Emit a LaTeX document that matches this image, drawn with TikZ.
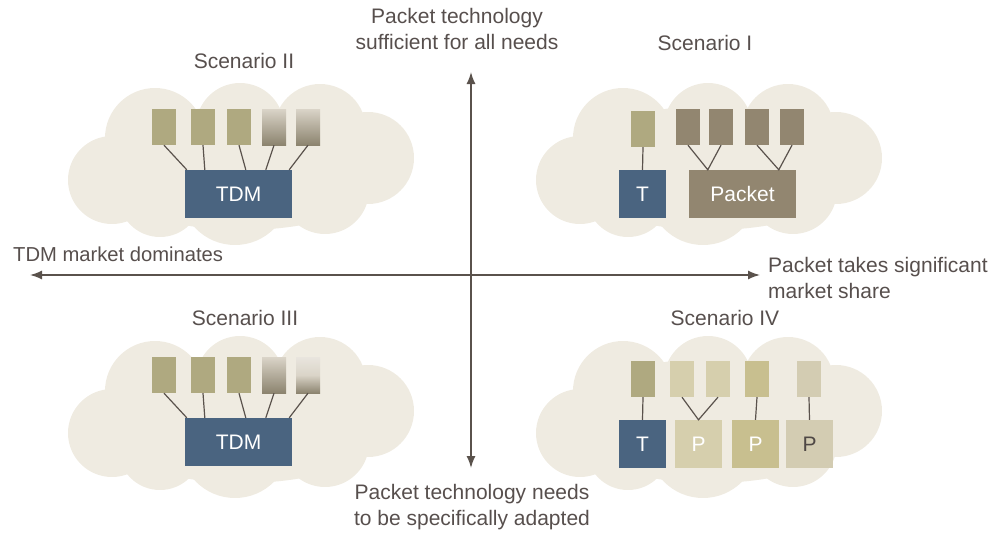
\documentclass[tikz,border=0pt]{standalone}
\usepackage{fontspec}
\setmainfont{Liberation Sans}
\usetikzlibrary{arrows.meta}

\definecolor{cloudfill}{HTML}{EFEBE1}
\definecolor{navy}{HTML}{4A6480}
\definecolor{olive}{HTML}{AFA980}
\definecolor{pktbrown}{HTML}{928670}
\definecolor{paleolive}{HTML}{D6CFAD}
\definecolor{midolive}{HTML}{C8BF8F}
\definecolor{greyolive}{HTML}{D3CCB2}
\definecolor{gradtop}{HTML}{DAD4C8}
\definecolor{gradbot}{HTML}{8C846F}
\definecolor{linecol}{HTML}{5A524C}
\definecolor{txtcol}{HTML}{574F4D}
\definecolor{darktxt}{HTML}{4F4845}

% cloud made of overlapping discs, centred on (#1,#2)
\newcommand{\drawcloud}[2]{%
  \begin{scope}[shift={(#1,#2)}]
    \fill[cloudfill] (0,3) ellipse [x radius=150pt, y radius=62pt];
    \fill[cloudfill] (-131,15) circle (44pt);
    \fill[cloudfill] (-88,-27) circle (50pt);
    \fill[cloudfill] (-3,-38) circle (44pt);
    \fill[cloudfill] (77,-35) circle (46pt);
    \fill[cloudfill] (125,-7) circle (46pt);
    \fill[cloudfill] (82,25) circle (44pt);
    \fill[cloudfill] (-8,25) circle (55pt);
    \fill[cloudfill] (-83,30) circle (42pt);
  \end{scope}}

\tikzset{
  lbl/.style={text=txtcol, inner sep=0pt},
  sbox/.style={rectangle, minimum width=24pt, minimum height=36pt, inner sep=0pt},
  bigbox/.style={rectangle, minimum width=107pt, minimum height=48pt, inner sep=0pt, text=white},
  sqbox/.style={rectangle, minimum width=47pt, minimum height=48pt, inner sep=0pt, text=white},
  gradbox/.style={sbox, top color=gradtop, bottom color=gradbot},
  gradbox2/.style={sbox, top color=gradtop!60!white, bottom color=gradbot, middle color=gradtop},
  link/.style={draw=linecol, line width=1.2pt},
  axis/.style={draw=linecol, line width=1.5pt, {Latex[length=12pt,width=9pt]}-{Latex[length=12pt,width=9pt]}}
}

\begin{document}
\begin{tikzpicture}[x=1pt, y=-1pt, font=\fontsize{21}{26}\selectfont]
\useasboundingbox (0,0) rectangle (1007,533);

% background clouds
\drawcloud{243}{165}
\drawcloud{711}{165}
\drawcloud{243}{418}
\drawcloud{711}{418}

% axes
\coordinate (top) at (471,72);
\coordinate (bot) at (471,468);
\coordinate (lft) at (30,275);
\coordinate (rgt) at (760,275);
\draw[axis] (bot) -- (top);
\draw[axis] (lft) -- (rgt);

% axis labels
\node[lbl, align=center] (ltop) at (457,29) {Packet technology\\sufficient for all needs};
\node[lbl, anchor=base west, font=\fontsize{20.2}{26}\selectfont] (lleft) at (13,261) {TDM market dominates};
\node[lbl, align=left, anchor=west] (lright) at (768,278) {Packet takes significant\\market share};
\node[lbl, align=center] (lbot) at (472,507) {Packet technology needs\\to be specifically adapted};

% scenario titles
\node[lbl] (t2) at (244,61) {Scenario II};
\node[lbl] (t1) at (705,43) {Scenario I};
\node[lbl] (t3) at (245,318) {Scenario III};
\node[lbl] (t4) at (725,318) {Scenario IV};

% Scenario II
\node[sbox, fill=olive] (a1) at (164,127) {};
\node[sbox, fill=olive] (a2) at (203,127) {};
\node[sbox, fill=olive] (a3) at (239,127) {};
\node[gradbox] (a4) at (274,127) {};
\node[gradbox] (a5) at (308,127) {};
\node[bigbox, fill=navy] (atdm) at (238.5,194) {TDM};
\draw[link] (a1.south) -- ([xshift=2pt]atdm.north west);
\draw[link] (a2.south) -- ([xshift=20pt]atdm.north west);
\draw[link] (a3.south) -- ([xshift=61pt]atdm.north west);
\draw[link] (a4.south) -- ([xshift=81pt]atdm.north west);
\draw[link] (a5.south) -- ([xshift=-3pt]atdm.north east);

% Scenario III
\node[sbox, fill=olive] (c1) at (164,375) {};
\node[sbox, fill=olive] (c2) at (203,375) {};
\node[sbox, fill=olive] (c3) at (239,375) {};
\node[gradbox] (c4) at (274,375) {};
\node[gradbox2] (c5) at (308,375) {};
\node[bigbox, fill=navy] (ctdm) at (238.5,442) {TDM};
\draw[link] (c1.south) -- ([xshift=2pt]ctdm.north west);
\draw[link] (c2.south) -- ([xshift=20pt]ctdm.north west);
\draw[link] (c3.south) -- ([xshift=61pt]ctdm.north west);
\draw[link] (c4.south) -- ([xshift=81pt]ctdm.north west);
\draw[link] (c5.south) -- ([xshift=-3pt]ctdm.north east);

% Scenario I
\node[sbox, fill=olive] (b0) at (643,129) {};
\node[sqbox, fill=navy] (bt) at (642.5,194) {T};
\draw[link] (b0.south) -- (bt.north);
\node[sbox, fill=pktbrown] (b1) at (688,127) {};
\node[sbox, fill=pktbrown] (b2) at (721,127) {};
\node[sbox, fill=pktbrown] (b3) at (757,127) {};
\node[sbox, fill=pktbrown] (b4) at (792,127) {};
\node[bigbox, fill=pktbrown] (bpkt) at (742.5,194) {Packet};
\draw[link] (b1.south) -- ([xshift=19pt]bpkt.north west) -- (b2.south);
\draw[link] (b3.south) -- ([xshift=90pt]bpkt.north west) -- (b4.south);

% Scenario IV
\node[sbox, fill=olive] (d1) at (643,379) {};
\node[sbox, fill=paleolive] (d2) at (682,379) {};
\node[sbox, fill=paleolive] (d3) at (718,379) {};
\node[sbox, fill=midolive] (d4) at (757,379) {};
\node[sbox, fill=greyolive] (d5) at (809,379) {};
\node[sqbox, fill=navy] (dt) at (642.5,444) {T};
\node[sqbox, fill=paleolive] (dp1) at (698.5,444) {P};
\node[sqbox, fill=midolive] (dp2) at (755.5,444) {P};
\node[sqbox, fill=greyolive, text=darktxt] (dp3) at (809.5,444) {P};
\draw[link] (d1.south) -- (dt.north);
\draw[link] (d2.south) -- (dp1.north) -- (d3.south);
\draw[link] (d4.south) -- (dp2.north);
\draw[link] (d5.south) -- (dp3.north);
\end{tikzpicture}
\end{document}
